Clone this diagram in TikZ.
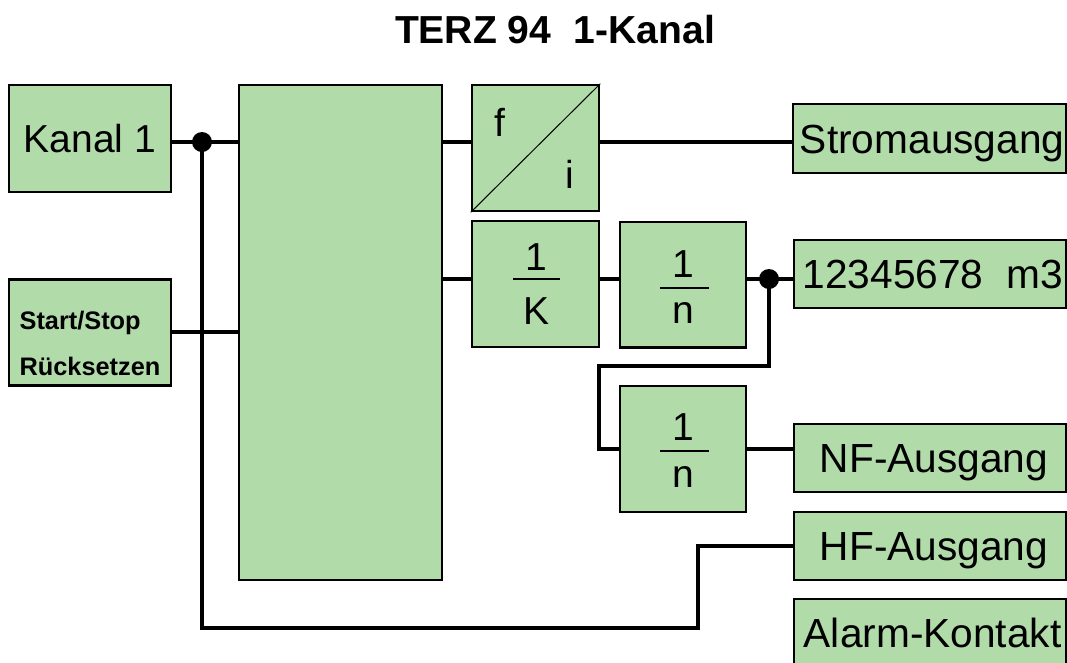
\documentclass[tikz,border=0pt]{standalone}
\usepackage{fontspec}
\setmainfont{Liberation Sans}
\usetikzlibrary{positioning,calc}
\definecolor{blkgreen}{RGB}{178,219,170}

\begin{document}
\begin{tikzpicture}[
  x=0.75pt, y=-0.75pt,
  font=\fontsize{29.25}{35}\selectfont,
  blk/.style={rectangle, draw=black, line width=2pt, fill=blkgreen,
              inner sep=0pt, text height=21pt, text depth=0pt, align=center},
  outblk/.style={blk, minimum width=204pt, minimum height=51pt,
                 font=\fontsize{30.5}{35}\selectfont, text height=22pt},
  wire/.style={line width=3pt},
  lbl/.style={anchor=base, inner sep=0pt}
]
\useasboundingbox (0,0) rectangle (1067,662);

\node[font=\bfseries\fontsize{29.3}{34}\selectfont, lbl] (title) at (555,43) {TERZ 94\hspace{0.3em} 1-Kanal};

% inputs and central block
\node[blk, minimum width=121.5pt, minimum height=80.25pt] (kan) at (90,138.5) {Kanal 1};
\node[blk, minimum width=121.5pt, minimum height=79.5pt, text height=, text depth=,
      font=\bfseries\fontsize{19}{35}\selectfont, align=left] (st) at (90,332.5) {\rule{0pt}{30pt}Start/Stop\\Rücksetzen};
\node[blk, minimum width=152.25pt, minimum height=371.25pt] (big) at (340.5,332.5) {};

% converters and dividers
\node[blk, minimum width=95.25pt, minimum height=94.5pt] (fi) at (535.5,148) {};
\draw[line width=0.75pt] (fi.south west) -- (fi.north east);
\node[lbl] (flbl) at (500,136) {f};
\node[lbl] (ilbl) at (570,188) {i};

\node[blk, minimum width=95.25pt, minimum height=94.5pt] (k) at (535.5,284) {};
\node[lbl] (kone) at (536,270) {1};
\node[lbl] (kden) at (536,324) {K};
\draw[line width=1.5pt] (513,279) -- (560,279);

\node[blk, minimum width=94.5pt, minimum height=94pt] (na) at (683,284.5) {};
\node[lbl] (naone) at (683,277) {1};
\node[lbl] (naden) at (683,323) {n};
\draw[line width=1.5pt] (660,288) -- (709,288);

\node[blk, minimum width=94.5pt, minimum height=94.5pt] (nb) at (683,449) {};
\node[lbl] (nbone) at (683,440) {1};
\node[lbl] (nbden) at (683,487) {n};
\draw[line width=1.5pt] (660,451) -- (709,451);

% outputs
\node[outblk, minimum width=204.75pt, minimum height=51.75pt] (strom) at (929.5,138.5) {\hspace{4pt}Stromausgang};
\node[outblk] (mcount) at (930,274) {\hspace{4pt}12345678\hspace{0.28em} m3};
\node[outblk] (nf) at (930,458) {\hspace{6pt}NF-Ausgang};
\node[outblk] (hf) at (930,546) {\hspace{6pt}HF-Ausgang};
\node[outblk] (alarm) at (930,633) {\hspace{4pt}Alarm-Kontakt};

% connectors
\coordinate (ja) at (202,142);
\coordinate (jb) at (769,279);
\coordinate (hb) at (698,628);
\coordinate (jc) at (599,366);

\draw[wire] (ja -| kan.east) -- (ja -| big.west);
\draw[wire] (st.east |- 0,332) -- (big.west |- 0,332);
\draw[wire] (ja) |- (hb) |- (hf.west);
\draw[wire] (ja -| big.east) -- (ja -| fi.west);
\draw[wire] (ja -| fi.east) -- (ja -| strom.west);
\draw[wire] (jb -| big.east) -- (jb -| k.west);
\draw[wire] (jb -| k.east) -- (jb -| na.west);
\draw[wire] (jb -| na.east) -- (jb -| mcount.west);
\draw[wire] (jb) |- (jc) |- (nb.west);
\draw[wire] (nb.east) -- (nb.east -| nf.west);
\fill (ja) circle (7.5pt);
\fill (jb) circle (7.5pt);
\end{tikzpicture}
\end{document}
